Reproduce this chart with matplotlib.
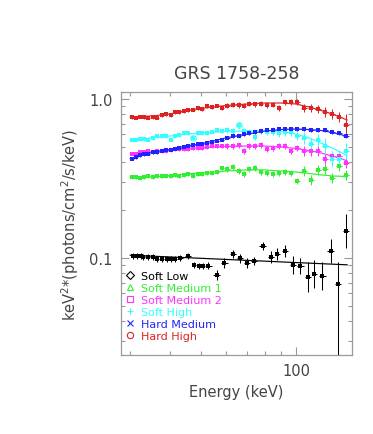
import numpy as np
import matplotlib
matplotlib.use('Agg')
import matplotlib.pyplot as plt
from matplotlib.lines import Line2D
from matplotlib.ticker import FixedLocator, FixedFormatter, NullFormatter

# energy bins (keV) shared by the coloured spectra
energy = [30.4, 31.3, 32.2, 33.2, 34.1, 35.3, 36.4, 37.8, 39.0, 40.3,
          41.5, 42.9, 44.3, 45.8, 47.3, 48.9, 50.5, 52.4, 54.3, 56.3,
          58.4, 60.8, 63.3, 65.9, 68.5, 71.3, 74.2, 77.5, 81.0, 84.6,
          88.4, 92.3, 96.4, 100.7, 106.0, 111.5, 117.3, 123.5, 129.9, 136.7,
          143.8]

hard_high = [0.770, 0.765, 0.776, 0.770, 0.765, 0.770, 0.765, 0.793, 0.805, 0.793,
             0.823, 0.829, 0.841, 0.853, 0.859, 0.872, 0.865, 0.904, 0.891, 0.910,
             0.878, 0.904, 0.923, 0.917, 0.904, 0.937, 0.930, 0.937, 0.917, 0.923,
             0.878, 0.951, 0.957, 0.964, 0.878, 0.878, 0.865, 0.829, 0.805, 0.776,
             0.686]
soft_high = [0.556, 0.556, 0.560, 0.560, 0.556, 0.565, 0.581, 0.585, 0.585, 0.556,
             0.589, 0.594, 0.607, 0.607, 0.569, 0.607, 0.611, 0.611, 0.620, 0.638,
             0.625, 0.634, 0.629, 0.686, 0.625, 0.616, 0.577, 0.625, 0.620, 0.616,
             0.611, 0.620, 0.620, 0.589, 0.569, 0.521, 0.552, 0.506, 0.419, 0.419,
             0.474]
hard_medium = [0.422, 0.429, 0.444, 0.448, 0.454, 0.461, 0.464, 0.471, 0.478, 0.481,
               0.485, 0.492, 0.499, 0.506, 0.510, 0.518, 0.521, 0.529, 0.540, 0.548,
               0.556, 0.569, 0.581, 0.589, 0.602, 0.611, 0.616, 0.625, 0.634, 0.638,
               0.643, 0.643, 0.648, 0.648, 0.643, 0.638, 0.638, 0.634, 0.620, 0.611,
               0.581]
soft_medium2 = [0.454, 0.451, 0.464, 0.461, 0.468, 0.464, 0.468, 0.471, 0.474, 0.478,
                0.485, 0.485, 0.488, 0.488, 0.492, 0.495, 0.495, 0.499, 0.503, 0.503,
                0.506, 0.503, 0.503, 0.510, 0.468, 0.506, 0.503, 0.514, 0.485, 0.495,
                0.503, 0.506, 0.474, 0.492, 0.468, 0.471, 0.471, 0.419, 0.435, 0.438,
                0.396]
soft_medium1 = [0.323, 0.321, 0.318, 0.323, 0.326, 0.323, 0.326, 0.326, 0.330, 0.328,
                0.333, 0.330, 0.333, 0.335, 0.328, 0.338, 0.335, 0.340, 0.342, 0.347,
                0.366, 0.363, 0.371, 0.354, 0.338, 0.363, 0.368, 0.346, 0.342, 0.338,
                0.341, 0.349, 0.342, 0.304, 0.351, 0.311, 0.358, 0.363, 0.318, 0.381,
                0.333]

# fractional 1-sigma errors
err_hard_high = [0.029] * 21 + [0.037] * 9 + [0.044] * 4 + [0.060] * 3 + [0.075] * 3 + [0.173]
err_soft_high = [0.029] * 21 + [0.044] * 9 + [0.060] * 4 + [0.091] * 3 + [0.123] * 4
err_hard_medium = [0.022] * 30 + [0.029] * 11
err_soft_medium2 = [0.029] * 21 + [0.044] * 13 + [0.075] * 7
err_soft_medium1 = [0.029] * 21 + [0.044] * 13 + [0.075] * 7

# soft low state has its own (coarser) binning
energy_low = [30.5, 31.4, 32.4, 33.0, 34.2, 35.3, 36.5, 37.9, 39.1, 40.2,
              41.5, 43.1, 45.7, 47.7, 49.4, 51.0, 52.9, 56.2, 59.3, 63.4,
              66.6, 69.9, 73.7, 78.5, 83.4, 87.3, 92.3, 97.6, 103.2, 109.3,
              114.2, 121.0, 128.7, 135.4, 143.5]
soft_low = [0.1034, 0.1034, 0.1029, 0.1019, 0.1010, 0.1010, 0.0990, 0.0986, 0.0981, 0.0981,
            0.0990, 0.1000, 0.1025, 0.0908, 0.0891, 0.0891, 0.0891, 0.0785, 0.0926, 0.1060,
            0.0996, 0.0930, 0.0953, 0.1195, 0.1019, 0.1052, 0.1111, 0.0904, 0.0887, 0.0756,
            0.0790, 0.0767, 0.1111, 0.0683, 0.1480]
err_low_up = [0.044] * 16 + [0.052, 0.075, 0.075, 0.060, 0.067, 0.075, 0.060, 0.060, 0.091,
                             0.091, 0.091, 0.139, 0.123, 0.243, 0.225, 0.225, 0.190, 0.375, 0.279]
err_low_dn = [0.042] * 16 + [0.049, 0.070, 0.070, 0.056, 0.063, 0.070, 0.056, 0.056, 0.083,
                             0.083, 0.083, 0.122, 0.109, 0.195, 0.184, 0.184, 0.160, 0.700, 0.218]

# best-fit model curves
model_energy = [30, 35, 40, 45, 50, 60, 70, 80, 90, 100, 110, 120, 130, 140, 145]
model_hard_high = [0.770, 0.782, 0.805, 0.847, 0.872, 0.910, 0.930, 0.944, 0.944, 0.930,
                   0.891, 0.847, 0.805, 0.759, 0.738]
model_soft_high = [0.556, 0.569, 0.585, 0.602, 0.611, 0.625, 0.629, 0.634, 0.625, 0.602,
                   0.569, 0.529, 0.492, 0.457, 0.438]
model_hard_medium = [0.422, 0.461, 0.481, 0.506, 0.521, 0.569, 0.602, 0.629, 0.643, 0.648,
                     0.643, 0.634, 0.616, 0.594, 0.577]
model_soft_medium2 = [0.454, 0.464, 0.478, 0.488, 0.495, 0.503, 0.506, 0.506, 0.499, 0.488,
                      0.474, 0.457, 0.438, 0.419, 0.407]
model_soft_medium1 = [0.321, 0.323, 0.330, 0.338, 0.342, 0.352, 0.358, 0.358, 0.352, 0.347,
                      0.340, 0.333, 0.328, 0.326, 0.323]
model_energy_low = [30, 50, 100, 145]
model_soft_low = [0.104, 0.0995, 0.0935, 0.0905]

flagged_soft_high = [14, 23]

labels = ['Soft Low', 'Soft Medium 1', 'Soft Medium 2', 'Soft High', 'Hard Medium', 'Hard High']
colors = ['black', '#33ee33', '#ff33ff', '#33ffff', '#2222ff', '#dd2222']
symbols = ['D', '^', 's', '+', 'x', 'o']


def half_widths(e):
    # half bin widths from neighbouring bin centres
    le = np.log10(e)
    edges = np.concatenate([[le[0] - (le[1] - le[0]) / 2], (le[1:] + le[:-1]) / 2,
                            [le[-1] + (le[-1] - le[-2]) / 2]])
    lo = np.asarray(e) - 10 ** edges[:-1]
    hi = 10 ** edges[1:] - np.asarray(e)
    return lo * 0.8, hi * 0.8


def draw_spectrum(ax, e, v, up, dn, me, mv, color):
    e = np.asarray(e)
    v = np.asarray(v)
    lo, hi = half_widths(e)
    ax.errorbar(e, v, xerr=[lo, hi], yerr=[v * np.asarray(dn), v * np.asarray(up)],
                fmt='s', ms=2.4, mew=0, color=color, ecolor=color, elinewidth=0.75,
                capsize=1.3, capthick=0.75, zorder=3)
    ax.plot(me, mv, '-', color=color, lw=0.85, zorder=2)


fig = plt.figure(figsize=(3.73, 4.35), dpi=100)
ax = fig.add_axes([121 / 373, 1 - 356 / 435, 231 / 373, 263 / 435])
ax.set_xscale('log')
ax.set_yscale('log')

draw_spectrum(ax, energy_low, soft_low, err_low_up, err_low_dn,
              model_energy_low, model_soft_low, colors[0])

series = [(soft_medium1, err_soft_medium1, model_soft_medium1, colors[1]),
          (soft_medium2, err_soft_medium2, model_soft_medium2, colors[2]),
          (soft_high, err_soft_high, model_soft_high, colors[3]),
          (hard_medium, err_hard_medium, model_hard_medium, colors[4]),
          (hard_high, err_hard_high, model_hard_high, colors[5])]
for vals, err, model, col in series:
    dn = [1 - 1 / (1 + f) for f in err]
    draw_spectrum(ax, energy, vals, err, dn, model_energy, model, col)

ax.plot(np.asarray(energy)[flagged_soft_high], np.asarray(soft_high)[flagged_soft_high], 'o',
        mfc='none', mec=colors[3], ms=4.0, mew=0.7, zorder=4)

ax.set_xlim(28.05, 150.2)
ax.set_ylim(0.0245, 1.107)

ax.xaxis.set_major_locator(FixedLocator([100]))
ax.xaxis.set_major_formatter(FixedFormatter(['100']))
ax.xaxis.set_minor_locator(FixedLocator([30, 40, 50, 60, 70, 80, 90]))
ax.xaxis.set_minor_formatter(NullFormatter())
ax.yaxis.set_major_locator(FixedLocator([0.1, 1.0]))
ax.yaxis.set_major_formatter(FixedFormatter(['0.1', '1.0']))
ax.yaxis.set_minor_locator(FixedLocator([0.03, 0.04, 0.05, 0.06, 0.07, 0.08, 0.09,
                                         0.2, 0.3, 0.4, 0.5, 0.6, 0.7, 0.8, 0.9]))
ax.yaxis.set_minor_formatter(NullFormatter())

frame = '#999999'
for s in ax.spines.values():
    s.set_color(frame)
    s.set_linewidth(0.9)
ax.tick_params(which='both', direction='in', top=True, right=True, colors=frame,
               labelcolor='#444444', labelsize=10.5, width=0.8)
ax.tick_params(which='major', length=6, pad=6)
ax.tick_params(which='minor', length=3)

ax.set_title('GRS 1758-258', fontsize=12.5, color='#444444', pad=10)
ax.set_xlabel('Energy (keV)', fontsize=10.5, color='#444444', labelpad=4)
ax.set_ylabel('keV$^2$*(photons/cm$^2$/s/keV)', fontsize=10.5, color='#444444', labelpad=6)

handles = [Line2D([], [], ls='none', marker=m, color=c, mfc='none', ms=4.5, mew=0.8)
           for m, c in zip(symbols, colors)]
leg = ax.legend(handles, labels, loc='upper left', bbox_to_anchor=(0.0, 0.335),
                frameon=False, fontsize=8, handlelength=0.8, handletextpad=0.6,
                labelspacing=0.17, borderpad=0.2, borderaxespad=0.2)
for t, c in zip(leg.get_texts(), colors):
    t.set_color(c)

fig.savefig('out.png', dpi=100)
